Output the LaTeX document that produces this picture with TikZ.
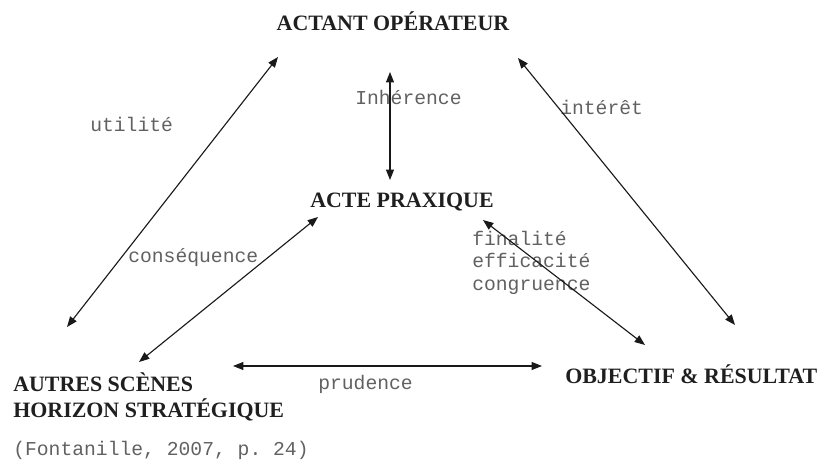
\documentclass[tikz,border=0pt]{standalone}
\usepackage{fontspec}
\setmainfont{Liberation Serif}
\setmonofont{Liberation Mono}
\usetikzlibrary{arrows.meta,calc}

\begin{document}
\begin{tikzpicture}[x=0.025cm,y=-0.025cm,
  pole/.style={inner sep=0pt,font=\fontsize{15.6}{17.8}\selectfont\bfseries,text=black!88},
  rel/.style={inner sep=0pt,font=\fontsize{14}{16}\selectfont\ttfamily,text=black!62},
  link/.style={line width=0.8pt,draw=black!90,
    {Triangle[length=2.6mm,width=2mm]}-{Triangle[length=2.6mm,width=2mm]}}]
\useasboundingbox (0,0) rectangle (825,468);

\draw (393,30)  node (actant)   [pole,anchor=base]       {ACTANT OPÉRATEUR};
\draw (402,207) node (acte)     [pole,anchor=base]       {ACTE PRAXIQUE};
\draw (13,417)  node (autres)   [pole,anchor=base west,align=left] {AUTRES SCÈNES\\HORIZON STRATÉGIQUE};
\draw (565,383) node (objectif) [pole,anchor=base west]  {OBJECTIF \& RÉSULTAT};

\draw (90,131)  node (utilite)   [rel,anchor=base west] {utilité};
\draw (355,104) node (inherence) [rel,anchor=base west] {Inhérence};
\draw (560,114) node (interet)   [rel,anchor=base west] {intérêt};
\draw (128,262) node (consequence) [rel,anchor=base west] {conséquence};
\draw (472,290) node (finalite)  [rel,anchor=base west,align=left] {finalité\\efficacité\\congruence};
\draw (318,389) node (prudence)  [rel,anchor=base west] {prudence};
\draw (13,455)  node (source)    [rel,anchor=base west] {(Fontanille, 2007, p. 24)};

% liens
\draw [link] ($(autres.base west)+(54,-90)$) -- ($(actant.base)+(-115,27)$);
\draw [link] ($(actant.base)+(-3,42)$) -- ($(acte.base)+(-12,-27)$);
\draw [link] ($(actant.base)+(125,28)$) -- ($(objectif.base west)+(170,-58)$);
\draw [link] ($(autres.base west)+(126,-55)$) -- ($(acte.base)+(-84,10)$);
\draw [link] ($(acte.base)+(81,13)$) -- ($(objectif.base west)+(80,-38)$);
\draw [link] ($(autres.base west)+(220,-51)$) -- ($(objectif.base west)+(-23,-17)$);
\end{tikzpicture}
\end{document}
